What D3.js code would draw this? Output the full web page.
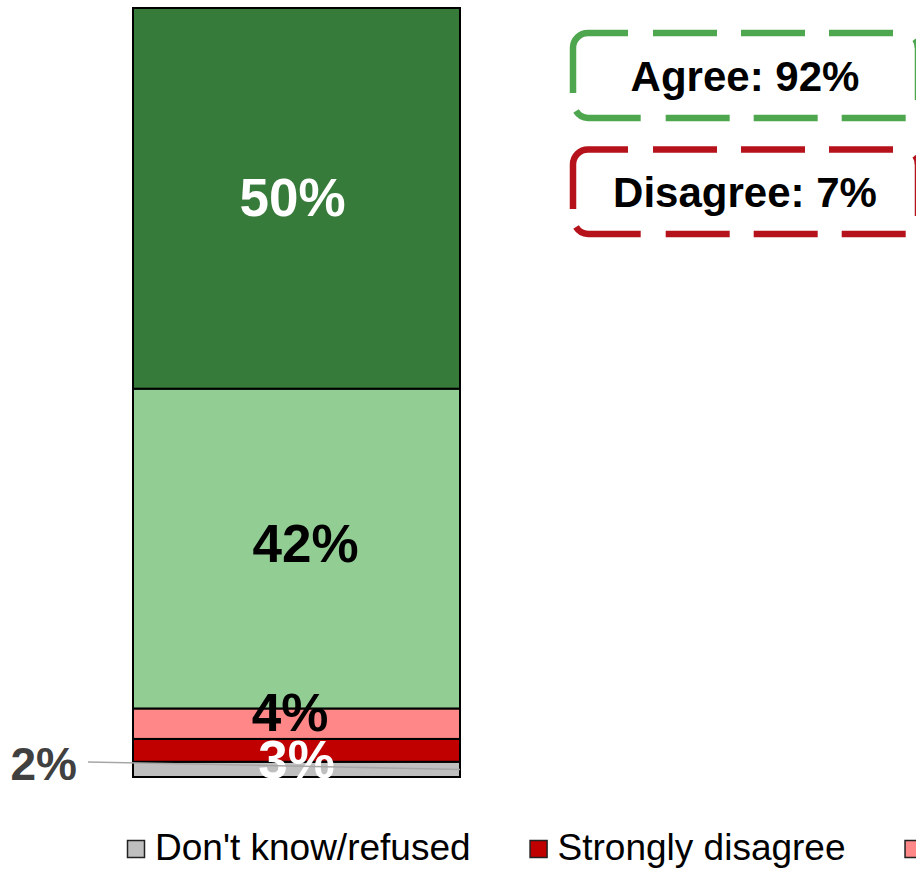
<!DOCTYPE html>
<html>
<head>
<meta charset="utf-8">
<script src="https://cdn.jsdelivr.net/npm/d3@7/dist/d3.min.js"></script>
<style>
  html, body { margin: 0; padding: 0; background: #fff; overflow: hidden; }
  svg { display: block; font-family: "Liberation Sans", Arial, sans-serif; }
</style>
</head>
<body>
<svg id="chart" width="916" height="870"></svg>
<script>
// Response categories, stacked from the bottom of the bar upwards
const categories = ["Don't know/refused", "Strongly disagree", "Somewhat disagree", "Somewhat agree", "Strongly agree"];
const values = [2, 3, 4, 42, 50];
const valueLabels = ["2%", "3%", "4%", "42%", "50%"];
const colors = ["#BFBFBF", "#C00000", "#FF8787", "#92CE94", "#377B3A"];

// Net summaries shown in the dashed callouts
const summaryNames = ["Agree", "Disagree"];
const summaryValues = [92, 7];
const summaryColors = ["#4EA64E", "#B5121B"];

const svg = d3.select("#chart");

const total = d3.sum(values);
const y = d3.scaleLinear().domain([0, total]).range([777, 8]);
const x = d3.scaleBand().domain(["all"]).range([133, 460]).padding(0);

// stacked segments
let acc = 0;
const segs = values.map((v, i) => {
  const s = { i, y0: acc, y1: acc + v, v };
  acc += v;
  return s;
});

svg.append("g").selectAll("rect").data(segs).join("rect")
  .attr("x", x("all"))
  .attr("width", x.bandwidth())
  .attr("y", d => y(d.y1))
  .attr("height", d => y(d.y0) - y(d.y1))
  .attr("fill", d => colors[d.i])
  .attr("stroke", "#000")
  .attr("stroke-width", 2);

// in-bar value labels
const inside = {
  1: { color: "#fff", dx: 0, dy: 8.5 },
  2: { color: "#000", dx: -6.5, dy: -12 },
  3: { color: "#000", dx: 9, dy: -5.5 },
  4: { color: "#fff", dx: -4, dy: -1 }
};
const fs = 53;
svg.append("g").selectAll("text")
  .data(segs.filter(d => inside[d.i]))
  .join("text")
  .attr("x", d => x("all") + x.bandwidth() / 2 + inside[d.i].dx)
  .attr("y", d => y((d.y0 + d.y1) / 2) + inside[d.i].dy + fs * 0.36)
  .attr("text-anchor", "middle")
  .attr("font-size", fs)
  .attr("font-weight", "bold")
  .attr("fill", d => inside[d.i].color)
  .text(d => valueLabels[d.i]);

// outside label for the small grey segment, with a leader line on top
const dk = segs[0];
svg.append("text")
  .attr("x", 10.5).attr("y", 780)
  .attr("font-size", 46)
  .attr("font-weight", "bold")
  .attr("fill", "#404040")
  .text(valueLabels[0]);
svg.append("line")
  .attr("x1", 88).attr("y1", 762)
  .attr("x2", x("all") + x.bandwidth())
  .attr("y2", y((dk.y0 + dk.y1) / 2))
  .attr("stroke", "#A6A6A6")
  .attr("stroke-width", 1.5);

// dashed summary callouts
const boxes = [{ y0: 33, y1: 118 }, { y0: 149.5, y1: 234 }];
const bx0 = 573, bx1 = 918, r = 15;
boxes.forEach((b, k) => {
  const g = svg.append("g")
    .attr("fill", "none")
    .attr("stroke", summaryColors[k])
    .attr("stroke-width", 6.5);
  // left side with top-left corner
  g.append("path")
    .attr("d", `M${bx0},${b.y1 - 25} V${b.y0 + r} A${r},${r} 0 0 1 ${bx0 + r},${b.y0} H628`);
  // top edge
  g.append("path")
    .attr("d", `M653,${b.y0} H${bx1 - r} A${r},${r} 0 0 1 ${bx1},${b.y0 + r}`)
    .attr("stroke-dasharray", "64 24");
  // right edge
  g.append("path")
    .attr("d", `M${bx1},${b.y0 + 6} V${b.y1 - 18}`);
  // bottom edge with bottom-left corner fragment
  g.append("path")
    .attr("d", `M${bx0 + 3},${b.y1 - 7} A${r},${r} 0 0 0 ${bx0 + r},${b.y1} H${bx1}`)
    .attr("stroke-dasharray", "67 25 64 24 64 24 64 24 64 24");
  svg.append("text")
    .attr("x", 745).attr("y", (b.y0 + b.y1) / 2 + 42 * 0.36)
    .attr("text-anchor", "middle")
    .attr("font-size", 42)
    .attr("font-weight", "bold")
    .attr("fill", "#000")
    .text(`${summaryNames[k]}: ${summaryValues[k]}%`);
});

// legend along the bottom
const legend = svg.append("g").attr("transform", "translate(127,840)");
let lx = 0;
categories.forEach((c, i) => {
  const item = legend.append("g").attr("transform", `translate(${lx},0)`);
  item.append("rect")
    .attr("x", 0.5).attr("y", 0.5)
    .attr("width", 17).attr("height", 17)
    .attr("fill", colors[i])
    .attr("stroke", "#222")
    .attr("stroke-width", 1.5);
  const t = item.append("text")
    .attr("x", 28).attr("y", 20)
    .attr("font-size", 37)
    .attr("fill", "#000")
    .text(c);
  lx += 28 + t.node().getComputedTextLength() + 59;
});
</script>
</body>
</html>
